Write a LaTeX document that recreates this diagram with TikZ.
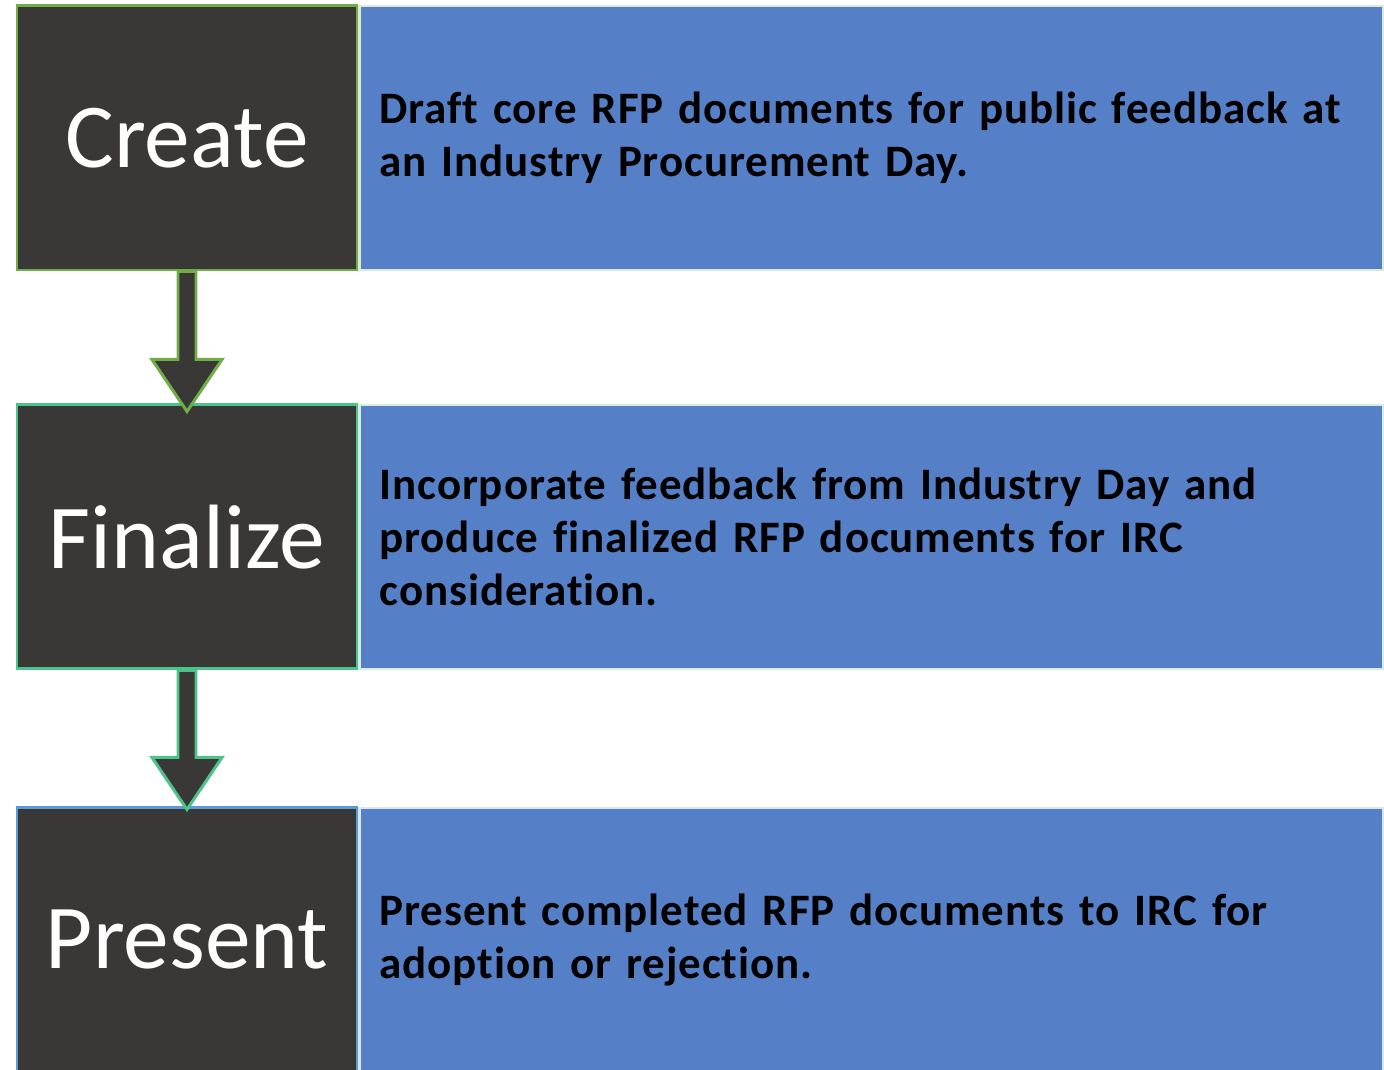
\documentclass[tikz,border=0pt]{standalone}
\usepackage{fontspec}
\setmainfont{Carlito}[Ligatures=NoCommon]
\newfontfamily\descfont{Carlito}[Ligatures=NoCommon,LetterSpace=2.0,WordSpace=0.8]
\usetikzlibrary{calc,positioning}
\definecolor{stepdark}{HTML}{3A3836}
\definecolor{descblue}{HTML}{5580C7}
\definecolor{creategreen}{HTML}{70AD47}
\definecolor{finalteal}{HTML}{4CC38A}
\definecolor{presentblue}{HTML}{5B9BD5}
\tikzset{
	stepbox/.style={draw=#1,line width=1.7pt,fill=stepdark,text=white,minimum width=6.8cm,minimum height=5.28cm,font=\fontsize{52}{60}\selectfont},
	descbox/.style={draw=#1!25!white,line width=1.2pt,fill=descblue,text=black,text width=19.66cm,inner xsep=0.4cm,minimum height=5.28cm,align=left,font=\descfont\bfseries\fontsize{25.6}{30.2}\selectfont}
}
\def\blockarrow[#1](#2)(#3) {\draw[line width=1.7pt,draw=#1,fill=stepdark,line join=miter] ($(#2)+(-0.18,0)$)--($(#3)+(-0.18,1.04)$)--($(#3)+(-0.7,1.04)$)--(#3)--($(#3)+(0.7,1.04)$)--($(#3)+(0.18,1.04)$)--($(#2)+(0.18,0)$)--cycle;}

\begin{document}
\begin{tikzpicture}
	\useasboundingbox (0,0) rectangle (27.68,-21.4);
	
	%STEP BOXES
	\node[stepbox=creategreen] (create) at (3.74,-2.76) {Create};
	\node[descbox=creategreen,right=0pt of create] (draft) {Draft core RFP documents for public feedback at\\an Industry Procurement Day.};
	%
	\node[stepbox=finalteal,below=2.64cm of create] (finalize) {Finalize};
	\node[descbox=finalteal,right=0pt of finalize] (incorporate) {Incorporate feedback from Industry Day and\\produce finalized RFP documents for IRC\\consideration.};
	%
	\node[stepbox=presentblue,below=2.72cm of finalize] (present) {Present};
	\node[descbox=presentblue,right=0pt of present] (adopt) {Present completed RFP documents to IRC for\\adoption or rejection.};
	
	%ARROWS
	\coordinate (tipone) at ($(finalize.north)+(0,-0.16)$);
	\coordinate (tiptwo) at ($(present.north)+(0,-0.06)$);
	\blockarrow[creategreen](create.south)(tipone)
	\blockarrow[finalteal](finalize.south)(tiptwo)
\end{tikzpicture}
\end{document}
